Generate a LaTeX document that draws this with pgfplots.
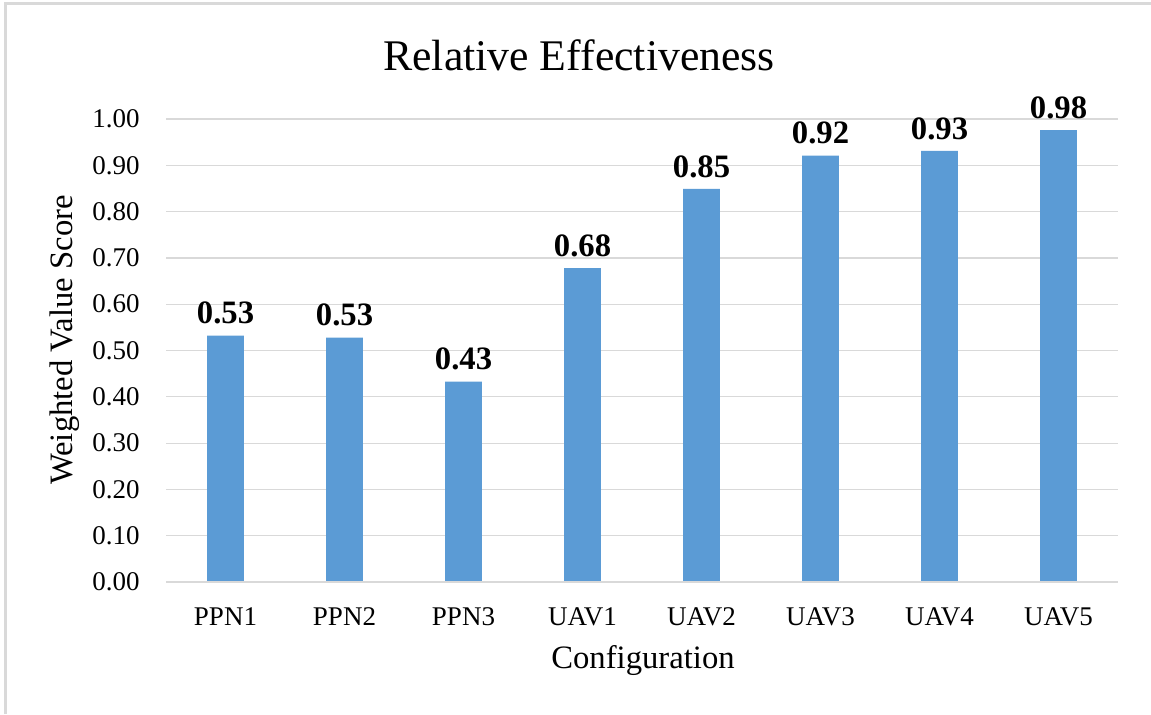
\documentclass[border=0pt]{standalone}
\usepackage{pgfplots}
\pgfplotsset{compat=1.18}
\usepackage{fontspec}
\setmainfont{Liberation Serif}
\definecolor{barblue}{HTML}{5B9BD5}
\definecolor{gridgray}{HTML}{D9D9D9}
\begin{document}
\begin{tikzpicture}
\useasboundingbox (0,0) rectangle (863.25pt,-535.5pt);
\draw[gridgray, line width=2.25pt] (3.75pt,-535.5pt) -- (3.75pt,-2.25pt) -- (863.25pt,-2.25pt);
\begin{axis}[
  at={(124.5pt,-436.5pt)}, anchor=south west,
  scale only axis, width=714pt, height=347.25pt,
  xmin=-0.5, xmax=7.5, ymin=0, ymax=1,
  clip=false,
  axis line style={draw=none},
  major tick length=0pt,
  ytick={0,0.1,0.2,0.3,0.4,0.5,0.6,0.7,0.8,0.9,1.0},
  yticklabel style={/pgf/number format/.cd, fixed, fixed zerofill, precision=2, /tikz/.cd,
    font=\fontsize{20.25}{20.25}\selectfont, anchor=east, inner sep=0pt, xshift=-19.5pt},
  /pgf/number format/assume math mode=true,
  xtick={0,1,2,3,4,5,6,7},
  xticklabels={PPN1,PPN2,PPN3,UAV1,UAV2,UAV3,UAV4,UAV5},
  xticklabel style={font=\fontsize{20.25}{20.25}\selectfont, anchor=base, inner sep=0pt, yshift=-32.25pt},
  ymajorgrids, grid style={gridgray, line width=0.9pt},
  ybar, bar width=27.5pt,
  nodes near coords={\pgfmathprintnumber[fixed,fixed zerofill,precision=2]{\pgfplotspointmeta}},
  every node near coord/.append style={font=\bfseries\fontsize{24.5}{24.5}\selectfont, anchor=south, inner sep=0pt, yshift=8.25pt, text=black},
]
\addplot[fill=barblue, draw=none] coordinates {
  (0,0.532) (1,0.528) (2,0.433) (3,0.678) (4,0.849) (5,0.921) (6,0.931) (7,0.976)
};
\draw[gridgray, line width=1.5pt] (rel axis cs:0,0) -- (rel axis cs:1,0);
\end{axis}
\node[anchor=base, font=\fontsize{32.8}{32.8}\selectfont] at (434.25pt,-52.5pt) {Relative Effectiveness};
\node[anchor=base, font=\fontsize{24.5}{24.5}\selectfont] at (482.25pt,-501pt) {Configuration};
\node[rotate=90, anchor=center, font=\fontsize{24.5}{24.5}\selectfont] at (48.75pt,-255pt) {Weighted Value Score};
\end{tikzpicture}
\end{document}
